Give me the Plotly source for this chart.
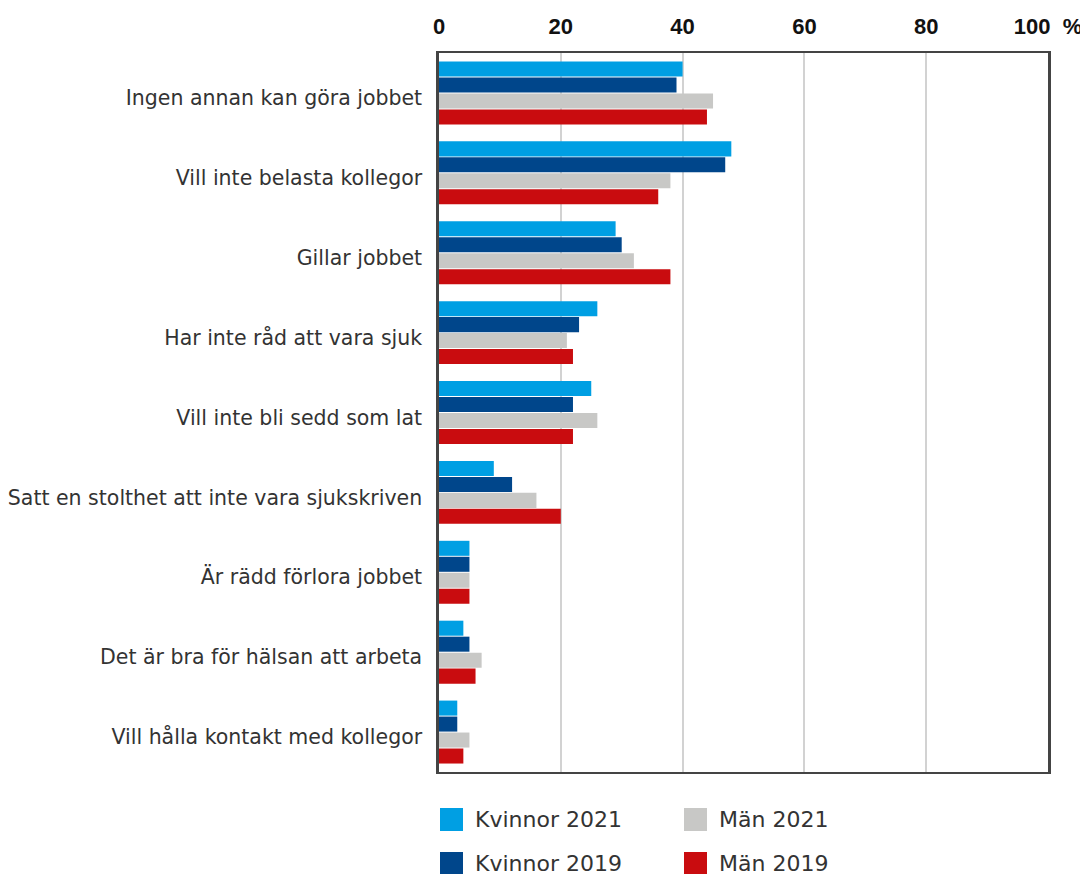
import plotly.graph_objects as go

categories = [
    "Ingen annan kan göra jobbet",
    "Vill inte belasta kollegor",
    "Gillar jobbet",
    "Har inte råd att vara sjuk",
    "Vill inte bli sedd som lat",
    "Satt en stolthet att inte vara sjukskriven",
    "Är rädd förlora jobbet",
    "Det är bra för hälsan att arbeta",
    "Vill hålla kontakt med kollegor",
]
kvinnor_2021 = [40, 48, 29, 26, 25, 9, 5, 4, 3]
kvinnor_2019 = [39, 47, 30, 23, 22, 12, 5, 5, 3]
man_2021 = [45, 38, 32, 21, 26, 16, 5, 7, 5]
man_2019 = [44, 36, 38, 22, 22, 20, 5, 6, 4]

series_names = ["Kvinnor 2021", "Kvinnor 2019", "Män 2021", "Män 2019"]
series_values = [kvinnor_2021, kvinnor_2019, man_2021, man_2019]
colors = ["#009FE3", "#00468B", "#C8C8C6", "#C90C0F"]

tick_vals = [0, 20, 40, 60, 80, 100]
tick_text = ["0", "20", "40", "60", "80", "100\u00a0\u00a0%"]

fig = go.Figure()
for name, vals, col in zip(series_names, series_values, colors):
    fig.add_trace(go.Bar(
        x=vals, y=categories, orientation="h", name=name,
        marker=dict(color=col, line=dict(width=0)), showlegend=False,
    ))

W, H = 1088, 874
OFF = 8  # page body margin
# plot area in page pixels
P_L, P_R, P_T, P_B = 439, 1048, 53, 772
ml = P_L - OFF
mr = W - (P_R - OFF)
mt = P_T - OFF
mb = H - (P_B - OFF)
pw, ph = P_R - P_L, P_B - P_T

def px(x):
    return (x - P_L) / pw

def py(y):
    return (P_B - y) / ph

LABEL_FONT = "DejaVu Sans, Liberation Sans, Arial, sans-serif"

# legend drawn as a 2x2 grid (page pixel positions of swatches)
legend_layout = [
    (series_names[0], colors[0], 440, 808),
    (series_names[2], colors[2], 684, 808),
    (series_names[1], colors[1], 440, 852),
    (series_names[3], colors[3], 684, 852),
]
shapes = []
annotations = []
for name, col, x0, y0 in legend_layout:
    shapes.append(dict(type="rect", xref="paper", yref="paper",
                       x0=px(x0), x1=px(x0 + 23), y0=py(y0 + 23), y1=py(y0),
                       fillcolor=col, line=dict(width=0), layer="above"))
    annotations.append(dict(xref="paper", yref="paper", x=px(x0 + 33), y=py(y0 + 11),
                            xanchor="left", yanchor="middle", showarrow=False,
                            text=name, font=dict(size=22, color="#333333",
                                                 family=LABEL_FONT)))

fig.update_layout(
    width=W, height=H,
    margin=dict(l=ml, r=mr, t=mt, b=mb, pad=0),
    paper_bgcolor="white", plot_bgcolor="white",
    barmode="group", bargap=0.2, bargroupgap=0.06,
    font=dict(family=LABEL_FONT, color="#333333"),
    shapes=shapes, annotations=annotations,
    xaxis=dict(
        side="top", range=[0, 100], tickvals=tick_vals, ticktext=tick_text,
        tickfont=dict(size=22, color="#111111", family="Liberation Sans, Arial, sans-serif", weight="bold"),
        showgrid=True, gridcolor="#D2D2D2", gridwidth=1.5,
        showline=True, linecolor="#444444", linewidth=1.5, mirror=True,
        zeroline=False, ticks="", ticklabelstandoff=8,
        fixedrange=True, automargin=False,
    ),
    yaxis=dict(
        autorange="reversed", categoryorder="array", categoryarray=categories,
        tickfont=dict(size=20.5, color="#333333", family=LABEL_FONT),
        showline=True, linecolor="#444444", linewidth=2.5, mirror=True,
        showgrid=False, ticks="", ticklabelstandoff=10, ticklabelshift=-5,
        fixedrange=True, automargin=False,
    ),
)

fig.write_html("out.html")
